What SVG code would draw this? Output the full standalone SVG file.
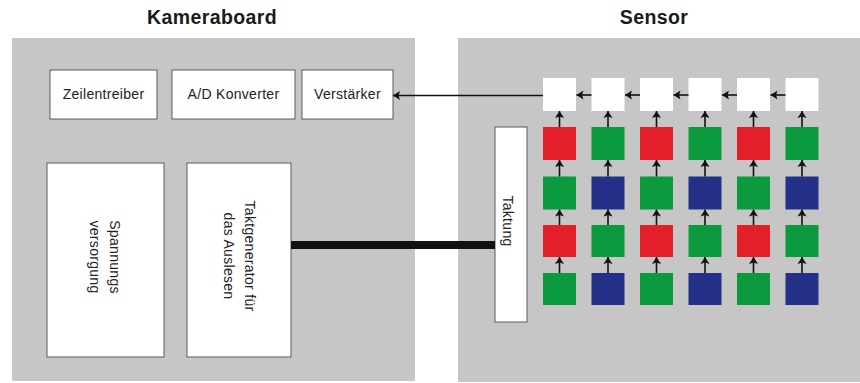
<svg xmlns="http://www.w3.org/2000/svg" width="860" height="383" viewBox="0 0 860 383">
  <style>
    .panel { fill: #c6c6c7; }
    .box { fill: #ffffff; stroke: #5a5a5a; stroke-width: 1; }
    .cell { fill: #ffffff; }
    .r { fill: #e3202a; }
    .g { fill: #0b9a3d; }
    .b { fill: #253189; }
    .title { font-family: "Liberation Sans", Arial, sans-serif; font-weight: bold; font-size: 19.5px; letter-spacing: 0.4px; fill: #1a1a1a; text-anchor: middle; }
    .lbl { font-family: "Liberation Sans", Arial, sans-serif; font-size: 14px; letter-spacing: 0.3px; fill: #222222; text-anchor: middle; }
    .wire { stroke: #111111; stroke-width: 1.6; fill: none; }
    .bus { stroke: #111111; stroke-width: 8; fill: none; }
  </style>
  <defs>
    <marker id="ah" markerUnits="userSpaceOnUse" markerWidth="9" markerHeight="10" refX="7" refY="5" orient="auto">
      <path d="M0,0.5 L7,5 L0,9.5 L1.5,5 Z" fill="#111111"/>
    </marker>
  </defs>

  <!-- panels -->
  <g id="kameraboard">
    <rect class="panel" x="12" y="38" width="403" height="343"/>
    <text class="title" x="212" y="24">Kameraboard</text>
  </g>
  <g id="sensor">
    <rect class="panel" x="458" y="38" width="402" height="344"/>
    <text class="title" x="654" y="24">Sensor</text>
  </g>

  <!-- board components -->
  <g id="zeilentreiber">
    <rect class="box" x="50" y="70" width="107" height="49"/>
    <text class="lbl" x="103.5" y="99">Zeilentreiber</text>
  </g>
  <g id="ad-konverter">
    <rect class="box" x="172" y="70" width="123" height="49"/>
    <text class="lbl" x="233.5" y="99">A/D Konverter</text>
  </g>
  <g id="verstaerker">
    <rect class="box" x="302" y="70" width="91" height="49"/>
    <text class="lbl" x="347.5" y="99">Verstärker</text>
  </g>
  <g id="spannungsversorgung">
    <rect class="box" x="47" y="163" width="117" height="194"/>
    <text class="lbl" transform="translate(110,257) rotate(90)">Spannungs</text>
    <text class="lbl" transform="translate(90,257) rotate(90)">versorgung</text>
  </g>
  <g id="taktgenerator">
    <rect class="box" x="187" y="163" width="104" height="194"/>
    <text class="lbl" transform="translate(245,256) rotate(90)">Taktgenerator für</text>
    <text class="lbl" transform="translate(224,256) rotate(90)">das Auslesen</text>
  </g>

  <!-- sensor components -->
  <g id="taktung">
    <rect class="box" x="495" y="127" width="32" height="195"/>
    <text class="lbl" transform="translate(503,221) rotate(90)">Taktung</text>
  </g>
  <g id="ausleseregister">
    <rect class="cell" x="543" y="78" width="33" height="33"/>
    <rect class="cell" x="591.5" y="78" width="33" height="33"/>
    <rect class="cell" x="640" y="78" width="33" height="33"/>
    <rect class="cell" x="688.5" y="78" width="33" height="33"/>
    <rect class="cell" x="737" y="78" width="33" height="33"/>
    <rect class="cell" x="785.5" y="78" width="33" height="33"/>
  </g>
  <g id="pixelmatrix">
    <!-- row 1: R G R G R G -->
    <rect class="r" x="543" y="127" width="33" height="33"/>
    <rect class="g" x="591.5" y="127" width="33" height="33"/>
    <rect class="r" x="640" y="127" width="33" height="33"/>
    <rect class="g" x="688.5" y="127" width="33" height="33"/>
    <rect class="r" x="737" y="127" width="33" height="33"/>
    <rect class="g" x="785.5" y="127" width="33" height="33"/>
    <!-- row 2: G B G B G B -->
    <rect class="g" x="543" y="176.5" width="33" height="33"/>
    <rect class="b" x="591.5" y="176.5" width="33" height="33"/>
    <rect class="g" x="640" y="176.5" width="33" height="33"/>
    <rect class="b" x="688.5" y="176.5" width="33" height="33"/>
    <rect class="g" x="737" y="176.5" width="33" height="33"/>
    <rect class="b" x="785.5" y="176.5" width="33" height="33"/>
    <!-- row 3: R G R G R G -->
    <rect class="r" x="543" y="225" width="33" height="32"/>
    <rect class="g" x="591.5" y="225" width="33" height="32"/>
    <rect class="r" x="640" y="225" width="33" height="32"/>
    <rect class="g" x="688.5" y="225" width="33" height="32"/>
    <rect class="r" x="737" y="225" width="33" height="32"/>
    <rect class="g" x="785.5" y="225" width="33" height="32"/>
    <!-- row 4: G B G B G B -->
    <rect class="g" x="543" y="273" width="33" height="32"/>
    <rect class="b" x="591.5" y="273" width="33" height="32"/>
    <rect class="g" x="640" y="273" width="33" height="32"/>
    <rect class="b" x="688.5" y="273" width="33" height="32"/>
    <rect class="g" x="737" y="273" width="33" height="32"/>
    <rect class="b" x="785.5" y="273" width="33" height="32"/>
  </g>

  <!-- connectors -->
  <g id="connectors">
    <!-- clock bus -->
    <line class="bus" x1="291" y1="245" x2="495" y2="245"/>
    <!-- readout register to amplifier -->
    <line class="wire" x1="543" y1="95.5" x2="393" y2="95.5" marker-end="url(#ah)"/>
    <!-- shift chain along the readout register -->
    <line class="wire" x1="591.5" y1="95" x2="576.5" y2="95" marker-end="url(#ah)"/>
    <line class="wire" x1="640" y1="95" x2="625" y2="95" marker-end="url(#ah)"/>
    <line class="wire" x1="688.5" y1="95" x2="673.5" y2="95" marker-end="url(#ah)"/>
    <line class="wire" x1="737" y1="95" x2="722" y2="95" marker-end="url(#ah)"/>
    <line class="wire" x1="785.5" y1="95" x2="770.5" y2="95" marker-end="url(#ah)"/>
    <!-- vertical charge transfer, column by column -->
    <g id="col-arrows">
      <line class="wire" x1="559.5" y1="127" x2="559.5" y2="111" marker-end="url(#ah)"/>
      <line class="wire" x1="559.5" y1="176.5" x2="559.5" y2="160" marker-end="url(#ah)"/>
      <line class="wire" x1="559.5" y1="225" x2="559.5" y2="209.5" marker-end="url(#ah)"/>
      <line class="wire" x1="559.5" y1="273" x2="559.5" y2="257" marker-end="url(#ah)"/>

      <line class="wire" x1="608" y1="127" x2="608" y2="111" marker-end="url(#ah)"/>
      <line class="wire" x1="608" y1="176.5" x2="608" y2="160" marker-end="url(#ah)"/>
      <line class="wire" x1="608" y1="225" x2="608" y2="209.5" marker-end="url(#ah)"/>
      <line class="wire" x1="608" y1="273" x2="608" y2="257" marker-end="url(#ah)"/>

      <line class="wire" x1="656.5" y1="127" x2="656.5" y2="111" marker-end="url(#ah)"/>
      <line class="wire" x1="656.5" y1="176.5" x2="656.5" y2="160" marker-end="url(#ah)"/>
      <line class="wire" x1="656.5" y1="225" x2="656.5" y2="209.5" marker-end="url(#ah)"/>
      <line class="wire" x1="656.5" y1="273" x2="656.5" y2="257" marker-end="url(#ah)"/>

      <line class="wire" x1="705" y1="127" x2="705" y2="111" marker-end="url(#ah)"/>
      <line class="wire" x1="705" y1="176.5" x2="705" y2="160" marker-end="url(#ah)"/>
      <line class="wire" x1="705" y1="225" x2="705" y2="209.5" marker-end="url(#ah)"/>
      <line class="wire" x1="705" y1="273" x2="705" y2="257" marker-end="url(#ah)"/>

      <line class="wire" x1="753.5" y1="127" x2="753.5" y2="111" marker-end="url(#ah)"/>
      <line class="wire" x1="753.5" y1="176.5" x2="753.5" y2="160" marker-end="url(#ah)"/>
      <line class="wire" x1="753.5" y1="225" x2="753.5" y2="209.5" marker-end="url(#ah)"/>
      <line class="wire" x1="753.5" y1="273" x2="753.5" y2="257" marker-end="url(#ah)"/>

      <line class="wire" x1="802" y1="127" x2="802" y2="111" marker-end="url(#ah)"/>
      <line class="wire" x1="802" y1="176.5" x2="802" y2="160" marker-end="url(#ah)"/>
      <line class="wire" x1="802" y1="225" x2="802" y2="209.5" marker-end="url(#ah)"/>
      <line class="wire" x1="802" y1="273" x2="802" y2="257" marker-end="url(#ah)"/>
    </g>
  </g>
</svg>
